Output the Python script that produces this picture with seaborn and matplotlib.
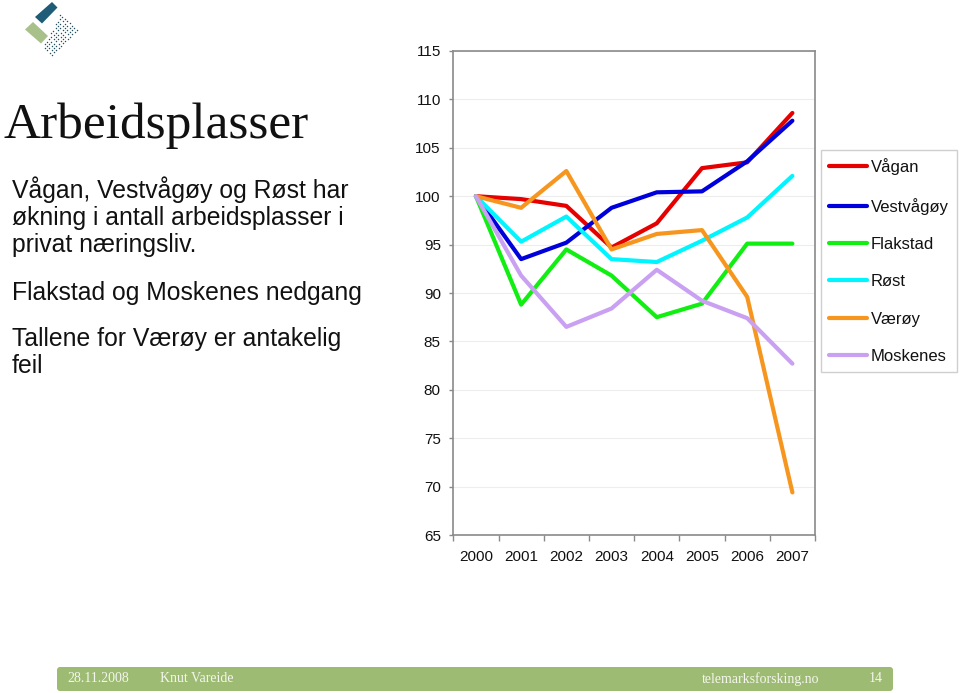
import matplotlib
matplotlib.use("Agg")
import matplotlib.pyplot as plt
import seaborn as sns
import pandas as pd
import numpy as np
from matplotlib.patches import Polygon, FancyBboxPatch

# ---------------- data ----------------
years = ["2000", "2001", "2002", "2003", "2004", "2005", "2006", "2007"]
vagan = [100, 99.7, 99.0, 94.7, 97.2, 102.9, 103.5, 108.6]
vestvagoy = [100, 93.5, 95.2, 98.8, 100.4, 100.5, 103.6, 107.8]
flakstad = [100, 88.8, 94.5, 91.8, 87.5, 88.9, 95.1, 95.1]
rost = [100, 95.3, 97.9, 93.5, 93.2, 95.4, 97.8, 102.1]
varoy = [100, 98.8, 102.6, 94.5, 96.1, 96.5, 89.6, 69.4]
moskenes = [100, 91.8, 86.5, 88.4, 92.4, 89.2, 87.4, 82.7]

series_names = ["Vågan", "Vestvågøy", "Flakstad", "Røst", "Værøy", "Moskenes"]
series_values = [vagan, vestvagoy, flakstad, rost, varoy, moskenes]
series_colors = ["#E60000", "#0000DD", "#11EE11", "#00F5FF", "#F7961E", "#C9A0F2"]
y_ticks = [65, 70, 75, 80, 85, 90, 95, 100, 105, 110, 115]

title = "Arbeidsplasser"
body_lines = [
    "Vågan, Vestvågøy og Røst har",
    "økning i antall arbeidsplasser i",
    "privat næringsliv.",
    "Flakstad og Moskenes nedgang",
    "Tallene for Værøy er antakelig",
    "feil",
]
footer_left = ["28.11.2008", "Knut Vareide"]
footer_right = ["telemarksforsking.no", "14"]

# ---------------- style ----------------
sns.set_theme(style="white")
plt.rcParams["font.family"] = ["Liberation Sans", "DejaVu Sans"]

W, H = 960, 693
fig = plt.figure(figsize=(W / 100, H / 100), dpi=100)
fig.patch.set_facecolor("white")

# background / decoration layer in pixel coordinates
bg = fig.add_axes([0, 0, 1, 1])
bg.set_xlim(0, W)
bg.set_ylim(H, 0)
bg.axis("off")

# logo
bg.add_patch(Polygon([(52, 2), (57.5, 7.5), (42, 23.5), (35, 17)], closed=True,
                     color="#1F5C78", lw=0))
bg.add_patch(Polygon([(33, 22), (48, 36), (41, 43.5), (25, 29.5)], closed=True,
                     color="#A8C08A", lw=0))
A = np.array([60.0, 15.0])
B = np.array([77.0, 30.0])
C = np.array([52.0, 55.0])
D = np.array([43.0, 47.0])
u = (B - A) / np.linalg.norm(B - A)
v = (C - B) / np.linalg.norm(C - B)
nu = int(np.linalg.norm(B - A) / 3.2) + 1
nv = int(np.linalg.norm(C - B) / 3.2) + 1
pts = []
for i in range(nu):
    for j in range(nv):
        P = A + i * 3.2 * u + j * 3.2 * v
        cross = (D[0] - A[0]) * (P[1] - A[1]) - (D[1] - A[1]) * (P[0] - A[0])
        if cross <= 8:
            pts.append(P)
pts = np.array(pts)
bg.scatter(pts[:, 0], pts[:, 1], s=1.1, color="#24505F", lw=0)

# title and body text
bg.text(4, 138, title, family=["Liberation Serif", "DejaVu Serif"], size=37,
        va="baseline", ha="left", color="#111111")
baselines = [198, 225, 252, 300, 346, 373]
for line, yb in zip(body_lines, baselines):
    bg.text(12, yb, line, size=17.8, va="baseline", ha="left", color="#111111")

# footer bar
bg.add_patch(FancyBboxPatch((59, 669), 832, 20, boxstyle="round,pad=2,rounding_size=3",
                            color="#9DBB72", lw=0))
fkw = dict(family=["Liberation Serif", "DejaVu Serif"], size=10, color="#F4F6EE",
           va="center")
bg.text(67, 679, footer_left[0], ha="left", **fkw)
bg.text(160, 679, footer_left[1], ha="left", **fkw)
bg.text(819, 679, footer_right[0], ha="right", **fkw)
bg.text(883, 679, footer_right[1], ha="right", **fkw)

# ---------------- chart ----------------
ax = fig.add_axes([453.3 / W, (H - 535) / H, (815 - 453.3) / W, 484 / H])
ax.set_facecolor("none")

df = pd.DataFrame({
    "År": years * len(series_names),
    "Indeks": [val for vals in series_values for val in vals],
    "Kommune": [n for n in series_names for _ in years],
})
sns.lineplot(data=df, x="År", y="Indeks", hue="Kommune", hue_order=series_names,
             palette=dict(zip(series_names, series_colors)), sort=False,
             lw=3, ax=ax, legend=False)

ax.set_xlim(-0.5, len(years) - 0.5)
ax.set_ylim(65, 115)
ax.set_yticks(y_ticks)
ax.set_yticklabels([str(t) for t in y_ticks])
ax.set_xticks(range(len(years)))
ax.set_xticklabels(years)
ax.set_xticks(np.arange(-0.5, len(years), 1.0), minor=True)
ax.set_xlabel("")
ax.set_ylabel("")
ax.yaxis.grid(True, color="#EDEDED", lw=0.8)
ax.xaxis.grid(False)
ax.set_axisbelow(True)
for sp in ax.spines.values():
    sp.set_color("#8A8A8A")
    sp.set_linewidth(1.2)
ax.tick_params(axis="x", which="major", length=0, pad=11, labelsize=11,
               labelcolor="#111111")
ax.tick_params(axis="x", which="minor", length=4, width=1, color="#8A8A8A",
               direction="out", bottom=True)
ax.tick_params(axis="y", length=3, width=1, color="#8A8A8A", direction="out",
               left=True, pad=6, labelsize=11, labelcolor="#111111")

lines = ax.get_lines()[:len(series_names)]
leg = fig.legend(lines, series_names, loc="upper left",
                 bbox_to_anchor=(821 / W, 1 - 150 / H), borderaxespad=0,
                 fontsize=12, handlelength=2.25, handletextpad=0.25,
                 labelspacing=1.34, borderpad=0.5, frameon=True,
                 fancybox=False)
leg.get_frame().set_edgecolor("#C4C4C4")
leg.get_frame().set_linewidth(1)
for t in leg.get_texts():
    t.set_color("#111111")

fig.savefig("out.png", dpi=100)
